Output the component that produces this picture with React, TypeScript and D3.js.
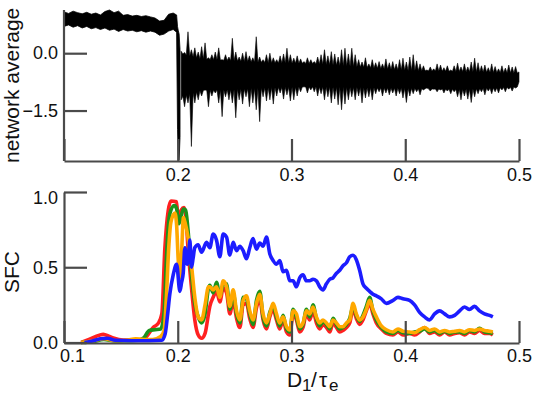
import React, { useEffect, useRef } from "react";
import * as d3 from "d3";

// ---- top panel: network average (envelope of the noisy trace, min / max per sample) ----
const netXBefore = [0.1, 0.104, 0.108, 0.112, 0.116, 0.12, 0.124, 0.128, 0.132, 0.136, 0.14, 0.144, 0.148, 0.152, 0.156, 0.16, 0.164, 0.168, 0.172, 0.176, 0.18, 0.184, 0.188, 0.192, 0.196];
const netHiBefore = [1.08, 1.04, 1.1, 1.06, 1.03, 1.07, 1.02, 1.05, 1.0, 1.09, 1.13, 1.06, 1.1, 0.99, 1.01, 0.97, 0.99, 0.96, 0.98, 0.95, 0.92, 0.84, 0.86, 1.02, 1.05];
const netLoBefore = [0.7, 0.74, 0.68, 0.72, 0.66, 0.7, 0.64, 0.67, 0.62, 0.66, 0.6, 0.63, 0.57, 0.62, 0.58, 0.6, 0.56, 0.59, 0.55, 0.58, 0.55, 0.47, 0.5, 0.58, 0.62];

// the switch at D1/te = 0.2
const netXDrop = [0.199, 0.1998, 0.2004, 0.2012, 0.202];
const netHiDrop = [1.0, 0.7, 0.6, 0.5, 0.1];
const netLoDrop = [0.55, -2.0, -2.8, -2.8, -2.2];

// after the switch, sampled every 0.003 from 0.203 to 0.5
const netXAfter = d3.range(100).map((i) => 0.203 + i * 0.003);
const netHiAfter = [
  0.05, 0.02, 0.56, 0.09, 0.14, 0.03, 0.17, 0.27, -0.12, -0.04,
  0.03, 0.14, -0.17, -0.04, -0.1, 0.39, 0.03, -0.1, 0.0, 0.04,
  -0.07, -0.12, 0.43, -0.1, -0.17, -0.04, 0.0, -0.12, -0.17, -0.07,
  -0.02, 0.13, -0.04, -0.13, -0.07, -0.15, -0.22, -0.12, -0.17, -0.22,
  -0.1, -0.04, 0.09, -0.07, 0.04, -0.02, -0.1, 0.09, 0.13, -0.02,
  0.13, -0.04, -0.17, -0.23, -0.12, -0.28, -0.17, -0.25, -0.22, -0.28,
  -0.15, -0.25, -0.22, -0.28, -0.17, -0.13, -0.23, -0.1, -0.04, -0.2,
  -0.28, -0.33, -0.44, -0.36, -0.41, -0.28, -0.31, -0.38, -0.33, -0.44,
  -0.33, -0.26, -0.36, -0.28, -0.36, -0.23, -0.13, -0.25, -0.33, -0.31,
  -0.38, -0.28, -0.35, -0.41, -0.33, -0.39, -0.31, -0.36, -0.35, -0.49,
];
const netLoAfter = [
  -1.22, -1.4, -1.3, -2.44, -1.3, -1.22, -1.12, -0.96, -1.4, -1.12,
  -1.04, -1.3, -1.66, -1.14, -1.22, -1.3, -1.69, -1.22, -1.33, -1.14,
  -1.4, -1.3, -1.48, -1.79, -1.14, -1.25, -1.22, -1.33, -1.12, -1.04,
  -1.2, -1.09, -1.25, -1.22, -1.12, -1.01, -0.88, -1.04, -0.96, -1.01,
  -1.12, -1.06, -1.22, -1.14, -1.3, -1.2, -1.35, -1.48, -1.33, -1.22,
  -1.14, -1.22, -1.12, -1.3, -1.17, -1.14, -1.22, -1.06, -1.01, -1.12,
  -1.04, -1.09, -1.04, -1.12, -1.06, -1.17, -1.29, -1.12, -1.06, -1.01,
  -1.09, -0.96, -0.91, -0.99, -0.94, -1.01, -0.96, -1.04, -0.99, -1.06,
  -1.01, -1.14, -1.22, -1.12, -1.2, -1.29, -1.14, -1.06, -1.01, -1.09,
  -0.99, -1.06, -1.01, -1.04, -0.96, -1.01, -0.94, -0.99, -0.91, -0.75,
];
// the solid core of the trace after the switch (where it is always black)
const netCoreX = [0.202, 0.22, 0.25, 0.28, 0.32, 0.36, 0.4, 0.45, 0.5];
const netCoreHi = [0.0, -0.15, -0.2, -0.25, -0.27, -0.36, -0.45, -0.48, -0.52];
const netCoreLo = [-1.15, -0.98, -0.95, -0.9, -0.88, -0.9, -0.92, -0.95, -0.88];

// ---- bottom panel: SFC, [D1/te, SFC] ----
const sfcRed: [number, number][] = [
  [0.115, 0.0], [0.122, 0.02], [0.128, 0.04], [0.1345, 0.054], [0.14, 0.04], [0.1433, 0.03], [0.152, 0.016], [0.167, 0.016],
  [0.1726, 0.04], [0.1784, 0.1], [0.1828, 0.127], [0.186, 0.19], [0.1887, 0.63], [0.1916, 0.875], [0.194, 0.94], [0.199, 0.935],
  [0.2004, 0.8], [0.203, 0.88], [0.2055, 0.896], [0.207, 0.85], [0.209, 0.63], [0.212, 0.37], [0.215, 0.15], [0.218, 0.05],
  [0.221, 0.028], [0.224, 0.06], [0.227, 0.19], [0.2282, 0.24], [0.2311, 0.3], [0.2341, 0.34], [0.237, 0.27], [0.2399, 0.36],
  [0.2429, 0.33], [0.2458, 0.19], [0.2487, 0.28], [0.2517, 0.16], [0.2546, 0.1], [0.2575, 0.25], [0.2604, 0.26], [0.2633, 0.16],
  [0.2662, 0.1], [0.2692, 0.23], [0.2721, 0.29], [0.275, 0.15], [0.278, 0.09], [0.2809, 0.17], [0.2838, 0.22], [0.2868, 0.15],
  [0.2897, 0.09], [0.2926, 0.15], [0.2956, 0.07], [0.2985, 0.05], [0.3014, 0.19], [0.3043, 0.15], [0.3072, 0.07], [0.3101, 0.1],
  [0.3131, 0.19], [0.316, 0.15], [0.3189, 0.21], [0.3219, 0.13], [0.3248, 0.09], [0.3277, 0.12], [0.3307, 0.1], [0.3336, 0.07],
  [0.3365, 0.13], [0.3395, 0.1], [0.3424, 0.07], [0.3453, 0.08], [0.3483, 0.1], [0.3512, 0.13], [0.3541, 0.22], [0.357, 0.16],
  [0.3599, 0.12], [0.3628, 0.15], [0.3658, 0.21], [0.3687, 0.26], [0.3716, 0.19], [0.3746, 0.13], [0.379, 0.09], [0.3834, 0.06],
  [0.3892, 0.05], [0.3936, 0.07], [0.398, 0.05], [0.4038, 0.06], [0.4082, 0.05], [0.4126, 0.07], [0.417, 0.1], [0.4214, 0.06],
  [0.4258, 0.07], [0.4302, 0.05], [0.4346, 0.07], [0.439, 0.05], [0.4434, 0.06], [0.4478, 0.065], [0.4521, 0.05], [0.4565, 0.07],
  [0.4609, 0.06], [0.4653, 0.08], [0.4697, 0.06], [0.4741, 0.06], [0.477, 0.05],
];
const sfcGreen: [number, number][] = [
  [0.115, 0.0], [0.125, 0.005], [0.135, 0.02], [0.145, 0.01], [0.155, 0.012], [0.165, 0.015], [0.17, 0.03], [0.175, 0.08],
  [0.18, 0.085], [0.185, 0.09], [0.188, 0.2], [0.19, 0.55], [0.192, 0.8], [0.194, 0.88], [0.197, 0.91], [0.199, 0.89],
  [0.201, 0.79], [0.203, 0.84], [0.205, 0.886], [0.207, 0.88], [0.209, 0.75], [0.212, 0.46], [0.215, 0.26], [0.218, 0.17],
  [0.221, 0.13], [0.224, 0.19], [0.227, 0.36], [0.2282, 0.38], [0.2311, 0.33], [0.2341, 0.4], [0.237, 0.31], [0.2399, 0.38],
  [0.2429, 0.39], [0.2458, 0.22], [0.2487, 0.33], [0.2517, 0.19], [0.2546, 0.13], [0.2575, 0.3], [0.2604, 0.29], [0.2633, 0.19],
  [0.2662, 0.12], [0.2692, 0.28], [0.2721, 0.34], [0.275, 0.17], [0.278, 0.11], [0.2809, 0.2], [0.2838, 0.24], [0.2868, 0.17],
  [0.2897, 0.11], [0.2926, 0.18], [0.2956, 0.09], [0.2985, 0.07], [0.3014, 0.22], [0.3043, 0.17], [0.3072, 0.09], [0.3101, 0.12],
  [0.3131, 0.22], [0.316, 0.17], [0.3189, 0.25], [0.3219, 0.16], [0.3248, 0.11], [0.3277, 0.14], [0.3307, 0.12], [0.3336, 0.09],
  [0.3365, 0.16], [0.3395, 0.12], [0.3424, 0.09], [0.3453, 0.1], [0.3483, 0.12], [0.3512, 0.16], [0.3541, 0.24], [0.357, 0.18],
  [0.3599, 0.14], [0.3628, 0.18], [0.3658, 0.24], [0.3687, 0.3], [0.3716, 0.21], [0.3746, 0.15], [0.379, 0.1], [0.3834, 0.07],
  [0.3892, 0.06], [0.3936, 0.08], [0.398, 0.065], [0.4038, 0.06], [0.4082, 0.07], [0.4126, 0.075], [0.417, 0.09], [0.4214, 0.07],
  [0.4258, 0.08], [0.4302, 0.06], [0.4346, 0.075], [0.439, 0.06], [0.4434, 0.07], [0.4478, 0.07], [0.4521, 0.06], [0.4565, 0.08],
  [0.4609, 0.07], [0.4653, 0.095], [0.4697, 0.07], [0.4741, 0.065], [0.477, 0.06],
];
const sfcOrange: [number, number][] = [
  [0.115, 0.0], [0.125, 0.01], [0.135, 0.025], [0.145, 0.012], [0.155, 0.015], [0.163, 0.025], [0.17, 0.02], [0.178, 0.02],
  [0.185, 0.04], [0.188, 0.08], [0.19, 0.3], [0.192, 0.62], [0.194, 0.8], [0.1975, 0.86], [0.199, 0.78], [0.2004, 0.55],
  [0.2019, 0.43], [0.2034, 0.6], [0.205, 0.83], [0.2063, 0.8], [0.209, 0.7], [0.212, 0.52], [0.215, 0.3], [0.218, 0.17],
  [0.221, 0.15], [0.224, 0.25], [0.227, 0.37], [0.2282, 0.37], [0.2311, 0.35], [0.2341, 0.37], [0.237, 0.3], [0.2399, 0.41],
  [0.2429, 0.37], [0.2458, 0.24], [0.2487, 0.35], [0.2517, 0.21], [0.2546, 0.15], [0.2575, 0.28], [0.2604, 0.31], [0.2633, 0.21],
  [0.2662, 0.15], [0.2692, 0.26], [0.2721, 0.32], [0.275, 0.19], [0.278, 0.13], [0.2809, 0.19], [0.2838, 0.26], [0.2868, 0.19],
  [0.2897, 0.13], [0.2926, 0.17], [0.2956, 0.105], [0.2985, 0.083], [0.3014, 0.21], [0.3043, 0.19], [0.3072, 0.105], [0.3101, 0.13],
  [0.3131, 0.21], [0.316, 0.19], [0.3189, 0.236], [0.3219, 0.17], [0.3248, 0.13], [0.3277, 0.15], [0.3307, 0.13], [0.3336, 0.105],
  [0.3365, 0.15], [0.3395, 0.13], [0.3424, 0.105], [0.3453, 0.105], [0.3483, 0.13], [0.3512, 0.15], [0.3541, 0.26], [0.357, 0.19],
  [0.3599, 0.15], [0.3628, 0.17], [0.3658, 0.22], [0.3687, 0.28], [0.3716, 0.22], [0.3746, 0.17], [0.379, 0.11], [0.3834, 0.085],
  [0.3892, 0.07], [0.3936, 0.09], [0.398, 0.075], [0.4038, 0.07], [0.4082, 0.065], [0.4126, 0.085], [0.417, 0.1], [0.4214, 0.08],
  [0.4258, 0.09], [0.4302, 0.07], [0.4346, 0.08], [0.439, 0.07], [0.4434, 0.075], [0.4478, 0.08], [0.4521, 0.07], [0.4565, 0.085],
  [0.4609, 0.08], [0.4653, 0.09], [0.4697, 0.08], [0.4741, 0.075], [0.477, 0.07],
];
const sfcBlue: [number, number][] = [
  [0.118, 0.0], [0.125, 0.01], [0.132, 0.025], [0.138, 0.028], [0.145, 0.015], [0.16, 0.012], [0.175, 0.012], [0.186, 0.015],
  [0.189, 0.06], [0.191, 0.18], [0.193, 0.32], [0.196, 0.45], [0.199, 0.52], [0.2019, 0.34], [0.2034, 0.4], [0.2048, 0.46],
  [0.2063, 0.63], [0.2083, 0.52], [0.2095, 0.55], [0.2106, 0.68], [0.2121, 0.5], [0.2135, 0.56], [0.215, 0.63], [0.2179, 0.65],
  [0.2209, 0.6], [0.2253, 0.665], [0.2282, 0.63], [0.2311, 0.72], [0.2341, 0.68], [0.237, 0.57], [0.2399, 0.72], [0.2429, 0.7],
  [0.2458, 0.58], [0.2487, 0.665], [0.2517, 0.61], [0.2546, 0.64], [0.2575, 0.61], [0.2604, 0.556], [0.2633, 0.63], [0.2662, 0.69],
  [0.2692, 0.62], [0.2721, 0.66], [0.275, 0.64], [0.278, 0.7], [0.2809, 0.59], [0.2838, 0.545], [0.2868, 0.52], [0.2897, 0.545],
  [0.2926, 0.47], [0.2956, 0.48], [0.2985, 0.41], [0.3014, 0.41], [0.3043, 0.37], [0.3072, 0.43], [0.3101, 0.45], [0.3131, 0.41],
  [0.316, 0.41], [0.3189, 0.42], [0.3219, 0.41], [0.3248, 0.37], [0.3277, 0.35], [0.3307, 0.39], [0.3336, 0.42], [0.3365, 0.43],
  [0.3395, 0.46], [0.3424, 0.48], [0.3453, 0.51], [0.3483, 0.53], [0.3512, 0.57], [0.3541, 0.58], [0.357, 0.55], [0.3599, 0.48],
  [0.3628, 0.39], [0.3658, 0.36], [0.3687, 0.34], [0.3716, 0.32], [0.3746, 0.31], [0.379, 0.29], [0.3834, 0.26], [0.3892, 0.28],
  [0.3936, 0.3], [0.398, 0.29], [0.4038, 0.28], [0.4082, 0.25], [0.4126, 0.2], [0.417, 0.17], [0.4214, 0.15], [0.4258, 0.19],
  [0.4302, 0.21], [0.4346, 0.19], [0.439, 0.17], [0.4434, 0.18], [0.4478, 0.21], [0.4521, 0.236], [0.4565, 0.22], [0.4609, 0.24],
  [0.4653, 0.21], [0.4697, 0.19], [0.4741, 0.18], [0.477, 0.17],
];

const xTicks = [0.1, 0.2, 0.3, 0.4, 0.5];
const netTicks = [0.0, -1.5];
const sfcTicks = [0.0, 0.5, 1.0];

const font = "'Liberation Sans', Arial, sans-serif";
const axisColor = "#4a4a4a";

const W = 533;
const H = 394;

type Env = { x: number; hi: number; lo: number };

const App = () => {
  const topX = useRef<SVGGElement>(null);
  const topY = useRef<SVGGElement>(null);
  const botX = useRef<SVGGElement>(null);
  const botY = useRef<SVGGElement>(null);

  const x = d3.scaleLinear().domain([0.1, 0.5]).range([64, 519]);
  const yNet = d3.scaleLinear().domain([-2.82, 1.13]).range([161, 10]);
  const ySfc = d3.scaleLinear().domain([0, 1]).range([342.5, 192]);

  const beforeData: Env[] = [
    ...netXBefore.map((v, i) => ({ x: v, hi: netHiBefore[i], lo: netLoBefore[i] })),
    ...netXDrop.map((v, i) => ({ x: v, hi: netHiDrop[i], lo: netLoDrop[i] })),
  ];

  // spikes: each sample reaches its min / max, the trace falls back to the core in between
  const coreHi = d3.scaleLinear().domain(netCoreX).range(netCoreHi).clamp(true);
  const coreLo = d3.scaleLinear().domain(netCoreX).range(netCoreLo).clamp(true);
  const spikes: [number, number, number][] = []; // [px, yTop, yBottom]
  netXAfter.forEach((v, i) => {
    const px = x(v);
    spikes.push([px, yNet(netHiAfter[i]), yNet(netLoAfter[i])]);
    if (i < netXAfter.length - 1) {
      const mid = v + 0.0015;
      spikes.push([x(mid), yNet(coreHi(mid)), yNet(coreLo(mid))]);
    }
  });

  const band = d3
    .area<Env>()
    .x((d) => x(d.x))
    .y0((d) => yNet(d.lo))
    .y1((d) => yNet(d.hi));

  const spikeArea = d3
    .area<[number, number, number]>()
    .x((d) => d[0])
    .y0((d) => d[2])
    .y1((d) => d[1]);

  const sfcLine = d3
    .line<[number, number]>()
    .x((d) => x(d[0]))
    .y((d) => ySfc(d[1]))
    .curve(d3.curveMonotoneX);

  useEffect(() => {
    const style = (g: d3.Selection<SVGGElement, unknown, null, undefined>) => {
      g.attr("font-size", 18).attr("font-family", font);
      g.select(".domain").attr("stroke", axisColor).attr("stroke-width", 2.2);
      g.selectAll(".tick line").attr("stroke", axisColor).attr("stroke-width", 2.2);
      g.selectAll(".tick text").attr("fill", "#111");
    };

    const fmt = d3.format(".1f");

    d3.select(topX.current!)
      .call(
        d3
          .axisBottom(x)
          .tickValues(xTicks)
          .tickSizeInner(-22)
          .tickSizeOuter(0)
          .tickPadding(7)
          .tickFormat((d) => (+d === 0.1 ? "" : fmt(+d)))
      )
      .call(style);

    d3.select(topY.current!)
      .call(d3.axisLeft(yNet).tickValues(netTicks).tickSizeInner(-23).tickSizeOuter(0).tickPadding(6).tickFormat((d) => fmt(+d)))
      .call(style);
    d3.select(topY.current!).select(".domain").attr("d", `M0,${yNet.range()[0]}V10`);

    const bx = d3
      .select(botX.current!)
      .call(
        d3
          .axisBottom(x)
          .tickValues(xTicks)
          .tickSizeInner(-22)
          .tickSizeOuter(0)
          .tickPadding(6)
          .tickFormat((d) => fmt(+d))
      )
      .call(style);
    // first label sits a bit to the right of its tick
    bx.selectAll<SVGTextElement, number>(".tick text").filter((d) => d === 0.1).attr("x", 8);

    const by = d3
      .select(botY.current!)
      .call(d3.axisLeft(ySfc).tickValues(sfcTicks).tickSizeInner(-23).tickSizeOuter(0).tickPadding(6).tickFormat((d) => fmt(+d)))
      .call(style);
    by.selectAll<SVGTextElement, number>(".tick text").filter((d) => d === 1).attr("dy", "0.62em");
  }, []);

  return (
    <svg
      width={W}
      height={H}
      style={{ position: "absolute", left: 0, top: 0, background: "#fff" }}
      fontFamily={font}
    >
      {/* top panel */}
      <path d={band(beforeData) ?? ""} fill="#000" stroke="#000" strokeWidth={0.8} strokeLinejoin="round" />
      <path d={spikeArea(spikes) ?? ""} fill="#000" stroke="#000" strokeWidth={0.6} strokeLinejoin="round" />
      <g ref={topX} transform={`translate(0,161)`} />
      <g ref={topY} transform={`translate(64,0)`} />
      <text transform="translate(19,163) rotate(-90)" fontSize={21} fill="#111">
        network average
      </text>

      {/* bottom panel */}
      <path d={sfcLine(sfcRed) ?? ""} fill="none" stroke="#ff2020" strokeWidth={3.6} strokeLinejoin="round" />
      <path d={sfcLine(sfcGreen) ?? ""} fill="none" stroke="#1b931b" strokeWidth={3.6} strokeLinejoin="round" />
      <path d={sfcLine(sfcOrange) ?? ""} fill="none" stroke="#ffa800" strokeWidth={3.6} strokeLinejoin="round" />
      <path d={sfcLine(sfcBlue) ?? ""} fill="none" stroke="#1c1cff" strokeWidth={3.6} strokeLinejoin="round" />
      <g ref={botX} transform={`translate(0,343)`} />
      <g ref={botY} transform={`translate(64,0)`} />
      <text transform="translate(19,293) rotate(-90)" fontSize={21} fill="#111">
        SFC
      </text>
      <text y={387} fontSize={21} fill="#111">
        <tspan x={287}>D</tspan>
        <tspan x={302} dy={4} fontSize={17}>1</tspan>
        <tspan x={311} dy={-4}>/</tspan>
        <tspan x={319}>τ</tspan>
        <tspan x={329} dy={4} fontSize={17}>e</tspan>
      </text>
    </svg>
  );
};

export default App;
